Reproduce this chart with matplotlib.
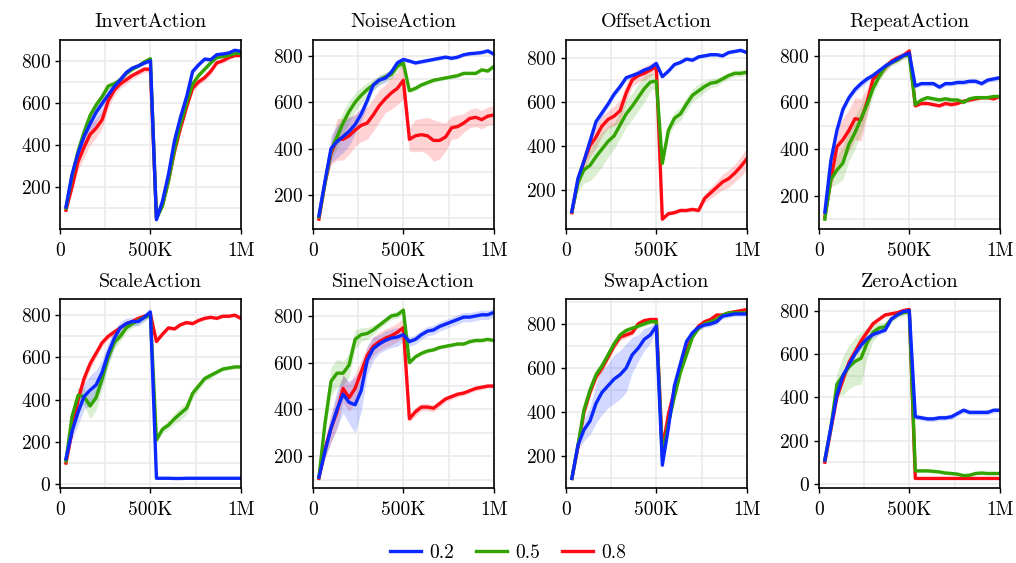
import numpy as np
import matplotlib
matplotlib.use("Agg")
from matplotlib import pyplot as plt
from matplotlib.ticker import AutoMinorLocator, FixedLocator

plt.rcParams["font.family"] = ["cmr10", "DejaVu Serif"]
plt.rcParams["axes.formatter.use_mathtext"] = True
plt.rcParams["font.size"] = 14

# evaluation steps: 30 checkpoints over 1M env steps (task switch at 500K)
steps = np.arange(1, 31) * 1e6 / 30

labels = ["0.2", "0.5", "0.8"]
colors = ["#0a28ff", "#33a300", "#ff0a14"]

tasks = ["InvertAction", "NoiseAction", "OffsetAction", "RepeatAction",
         "ScaleAction", "SineNoiseAction", "SwapAction", "ZeroAction"]

invert_02 = [105, 260, 360, 440, 500, 555, 597, 637, 677, 709, 744, 765, 776, 789, 800,
             45, 133, 261, 421, 533, 629, 749, 781, 808, 805, 829, 832, 837, 850, 845]
invert_05 = [100, 250, 370, 460, 540, 590, 630, 680, 690, 710, 740, 760, 775, 795, 810,
             50, 110, 230, 380, 500, 600, 690, 730, 760, 790, 815, 820, 825, 835, 835]
invert_08 = [90, 200, 320, 390, 450, 480, 520, 610, 660, 690, 710, 730, 745, 760, 760,
             55, 115, 230, 370, 480, 580, 670, 700, 720, 750, 790, 800, 815, 825, 825]

noise_02 = [110, 259, 400, 430, 452, 474, 504, 548, 607, 674, 696, 704, 730, 770, 785,
            778, 770, 775, 780, 785, 790, 795, 790, 795, 805, 810, 812, 815, 822, 808]
noise_05 = [105, 250, 390, 450, 510, 560, 600, 630, 655, 675, 695, 710, 720, 755, 770,
            650, 660, 675, 685, 695, 700, 705, 710, 715, 725, 725, 725, 740, 735, 755]
noise_08 = [95, 250, 380, 440, 440, 455, 480, 500, 510, 545, 585, 615, 640, 660, 695,
            440, 455, 460, 455, 435, 435, 450, 490, 495, 510, 530, 535, 525, 540, 545]

offset_02 = [100, 250, 330, 420, 510, 550, 590, 635, 670, 710, 720, 730, 745, 755, 775,
             715, 740, 770, 780, 795, 790, 805, 810, 815, 815, 810, 825, 830, 835, 825]
offset_05 = [100, 230, 290, 310, 350, 385, 420, 445, 495, 545, 580, 620, 660, 690, 695,
             320, 470, 525, 545, 590, 630, 650, 670, 685, 690, 705, 720, 730, 730, 735]
offset_08 = [95, 240, 330, 400, 440, 490, 520, 535, 560, 640, 700, 720, 730, 745, 760,
             65, 90, 95, 105, 105, 110, 105, 160, 185, 210, 235, 250, 275, 305, 340]

repeat_02 = [130, 350, 480, 570, 620, 655, 680, 700, 715, 735, 755, 770, 785, 800, 810,
             670, 680, 680, 680, 665, 680, 680, 685, 685, 690, 690, 680, 695, 700, 705]
repeat_05 = [100, 270, 310, 340, 420, 470, 530, 590, 660, 710, 750, 770, 780, 800, 800,
             590, 610, 620, 615, 610, 615, 610, 610, 600, 615, 620, 620, 620, 625, 625]
repeat_08 = [110, 270, 410, 440, 480, 530, 525, 600, 700, 720, 750, 775, 790, 800, 820,
             585, 595, 595, 590, 585, 595, 590, 595, 605, 610, 615, 620, 620, 615, 625]

scale_02 = [120, 250, 340, 415, 445, 470, 530, 620, 690, 740, 760, 770, 770, 790, 815,
            28, 28, 28, 27, 27, 28, 28, 28, 28, 28, 28, 28, 28, 28, 28]
scale_05 = [110, 320, 420, 415, 370, 410, 500, 600, 670, 700, 740, 760, 775, 790, 800,
            210, 260, 280, 310, 335, 360, 430, 465, 500, 515, 530, 545, 550, 555, 555]
scale_08 = [100, 250, 400, 500, 570, 620, 670, 700, 720, 740, 760, 770, 785, 795, 805,
            675, 710, 740, 735, 755, 765, 760, 775, 785, 790, 785, 795, 795, 800, 785]

sine_02 = [110, 220, 320, 400, 465, 430, 420, 480, 610, 660, 680, 695, 705, 710, 720,
           690, 700, 720, 735, 740, 755, 765, 775, 785, 795, 795, 800, 805, 805, 815]
sine_05 = [110, 340, 520, 555, 555, 590, 700, 720, 725, 740, 760, 780, 800, 805, 825,
           600, 625, 640, 650, 655, 665, 670, 675, 680, 680, 690, 695, 695, 700, 695]
sine_08 = [105, 230, 320, 390, 490, 450, 490, 560, 630, 670, 690, 705, 715, 730, 750,
           360, 390, 410, 410, 405, 425, 445, 455, 465, 470, 480, 490, 495, 500, 500]

swap_02 = [100, 250, 320, 360, 440, 490, 520, 550, 570, 600, 660, 690, 730, 750, 790,
           160, 330, 520, 620, 720, 760, 785, 795, 800, 810, 835, 840, 845, 845, 845]
swap_05 = [100, 250, 410, 500, 570, 610, 660, 710, 750, 770, 780, 790, 800, 810, 810,
           200, 350, 470, 580, 660, 740, 780, 800, 810, 820, 840, 850, 850, 850, 850]
swap_08 = [100, 240, 400, 490, 560, 600, 650, 700, 740, 750, 760, 800, 815, 820, 820,
           230, 390, 500, 600, 680, 750, 790, 810, 820, 840, 840, 850, 855, 860, 865]

zero_02 = [110, 260, 410, 500, 550, 600, 640, 670, 690, 700, 710, 760, 780, 795, 800,
           310, 305, 300, 300, 305, 305, 310, 325, 340, 330, 330, 330, 330, 340, 340]
zero_05 = [110, 260, 460, 500, 540, 565, 580, 650, 700, 720, 725, 760, 780, 790, 795,
           60, 60, 60, 58, 55, 50, 48, 45, 38, 40, 48, 50, 48, 48, 48]
zero_08 = [100, 250, 400, 480, 560, 610, 660, 700, 740, 760, 780, 785, 790, 800, 805,
           25, 25, 25, 25, 25, 25, 25, 25, 25, 25, 25, 25, 25, 25, 25]

# half-width of the shaded band around each mean curve
invert_02_sd = [5, 20, 50, 60, 60, 50, 45, 35, 25, 20, 15, 10, 10, 8, 5,
                3, 10, 10, 10, 10, 10, 10, 10, 10, 10, 10, 10, 10, 8, 8]
invert_05_sd = [5, 15, 25, 25, 20, 20, 15, 15, 15, 10, 10, 10, 8, 8, 5,
                3, 10, 10, 10, 10, 10, 10, 10, 10, 10, 8, 8, 8, 8, 8]
invert_08_sd = [5, 20, 40, 50, 50, 45, 40, 35, 25, 20, 20, 15, 15, 15, 10,
                3, 10, 10, 10, 10, 10, 15, 15, 15, 15, 10, 10, 10, 8, 8]

noise_02_sd = [5, 20, 60, 70, 70, 60, 40, 30, 25, 20, 20, 20, 15, 15, 10,
               8, 8, 8, 8, 8, 8, 8, 8, 8, 8, 8, 8, 8, 10, 10]
noise_05_sd = [5, 15, 40, 50, 50, 45, 40, 35, 30, 25, 20, 20, 20, 20, 15,
               10, 10, 10, 10, 10, 8, 8, 8, 8, 8, 8, 8, 8, 8, 10]
noise_08_sd = [5, 20, 50, 90, 90, 80, 70, 70, 70, 70, 70, 60, 70, 70, 80,
               50, 70, 70, 80, 90, 80, 60, 50, 50, 40, 40, 40, 40, 40, 40]

offset_02_sd = [5, 15, 20, 20, 20, 20, 15, 15, 15, 12, 10, 10, 10, 10, 8,
                8, 8, 8, 8, 8, 8, 8, 8, 8, 8, 8, 8, 8, 8, 8]
offset_05_sd = [5, 40, 60, 70, 80, 80, 70, 60, 60, 60, 60, 60, 60, 40, 30,
                20, 30, 30, 30, 30, 30, 30, 25, 20, 20, 15, 15, 15, 15, 12]
offset_08_sd = [5, 30, 40, 50, 50, 45, 40, 45, 50, 40, 30, 30, 30, 30, 30,
                5, 8, 8, 8, 8, 8, 8, 20, 25, 30, 35, 40, 40, 45, 50]

repeat_02_sd = [5, 20, 20, 20, 15, 15, 15, 15, 10, 10, 10, 10, 10, 10, 10,
                10, 10, 10, 10, 10, 10, 10, 10, 10, 10, 10, 10, 10, 12, 12]
repeat_05_sd = [5, 30, 60, 70, 70, 70, 60, 40, 30, 20, 20, 15, 15, 15, 10,
                10, 10, 10, 10, 10, 10, 10, 8, 8, 8, 8, 8, 8, 8, 8]
repeat_08_sd = [5, 40, 80, 90, 90, 90, 90, 60, 30, 20, 20, 15, 15, 15, 10,
                8, 8, 8, 8, 8, 8, 8, 8, 8, 8, 8, 8, 8, 8, 8]

scale_02_sd = [10, 40, 60, 60, 70, 70, 60, 50, 40, 30, 25, 20, 20, 20, 20,
               5, 5, 5, 5, 5, 5, 5, 5, 5, 5, 5, 5, 5, 5, 5]
scale_05_sd = [10, 30, 40, 40, 60, 60, 50, 40, 30, 25, 20, 20, 20, 15, 10,
               15, 20, 20, 25, 30, 30, 25, 20, 15, 15, 10, 10, 10, 10, 10]
scale_08_sd = [10, 25, 30, 30, 25, 20, 15, 15, 15, 10, 10, 10, 10, 10, 8,
               8, 8, 8, 8, 8, 8, 8, 8, 8, 8, 8, 8, 8, 8, 8]

sine_02_sd = [5, 30, 60, 80, 80, 90, 120, 90, 60, 50, 40, 40, 40, 40, 30,
              20, 20, 20, 20, 20, 20, 20, 20, 20, 20, 20, 20, 20, 20, 20]
sine_05_sd = [5, 40, 60, 60, 50, 50, 40, 30, 25, 20, 15, 15, 15, 15, 10,
              8, 8, 8, 8, 8, 8, 8, 8, 8, 8, 8, 8, 8, 8, 8]
sine_08_sd = [5, 40, 60, 70, 60, 60, 60, 50, 40, 40, 40, 40, 40, 40, 40,
              15, 20, 15, 15, 15, 15, 12, 12, 12, 10, 10, 10, 10, 8, 8]

swap_02_sd = [5, 20, 50, 60, 90, 100, 100, 110, 110, 110, 80, 60, 50, 40, 15,
              10, 10, 15, 15, 15, 15, 15, 12, 12, 12, 10, 10, 10, 10, 10]
swap_05_sd = [5, 15, 25, 25, 25, 20, 20, 20, 15, 15, 12, 12, 10, 10, 10,
              10, 10, 10, 10, 10, 10, 10, 10, 10, 8, 8, 8, 8, 8, 8]
swap_08_sd = [5, 15, 20, 20, 20, 20, 20, 15, 15, 15, 12, 12, 10, 10, 10,
              10, 10, 10, 10, 10, 10, 10, 10, 10, 10, 8, 8, 8, 8, 8]

zero_02_sd = [5, 15, 20, 20, 20, 15, 15, 15, 15, 12, 12, 10, 10, 10, 10,
              12, 12, 12, 12, 12, 12, 12, 12, 12, 12, 12, 12, 12, 12, 12]
zero_05_sd = [5, 30, 50, 90, 100, 110, 120, 70, 40, 25, 20, 15, 15, 15, 10,
              8, 8, 8, 8, 8, 8, 8, 8, 8, 8, 8, 8, 8, 8, 8]
zero_08_sd = [5, 15, 20, 20, 20, 15, 15, 15, 12, 10, 10, 10, 10, 10, 8,
              5, 5, 5, 5, 5, 5, 5, 5, 5, 5, 5, 5, 5, 5, 5]

means = [
    [invert_02, invert_05, invert_08],
    [noise_02, noise_05, noise_08],
    [offset_02, offset_05, offset_08],
    [repeat_02, repeat_05, repeat_08],
    [scale_02, scale_05, scale_08],
    [sine_02, sine_05, sine_08],
    [swap_02, swap_05, swap_08],
    [zero_02, zero_05, zero_08],
]
spreads = [
    [invert_02_sd, invert_05_sd, invert_08_sd],
    [noise_02_sd, noise_05_sd, noise_08_sd],
    [offset_02_sd, offset_05_sd, offset_08_sd],
    [repeat_02_sd, repeat_05_sd, repeat_08_sd],
    [scale_02_sd, scale_05_sd, scale_08_sd],
    [sine_02_sd, sine_05_sd, sine_08_sd],
    [swap_02_sd, swap_05_sd, swap_08_sd],
    [zero_02_sd, zero_05_sd, zero_08_sd],
]

f, axes = plt.subplots(2, 4, figsize=(10.16, 5.63), dpi=100)
f.subplots_adjust(left=0.059, right=0.984, top=0.929, bottom=0.133,
                  wspace=0.398, hspace=0.372)

handles = []
for ax, task, task_means, task_spreads in zip(axes.flat, tasks, means, spreads):
    lines = [None] * 3
    # draw 0.8 first so the 0.2 curve ends up on top
    for i in [2, 1, 0]:
        m = np.array(task_means[i], dtype=float)
        s = np.array(task_spreads[i], dtype=float)
        ax.fill_between(steps, m - s, m + s, color=colors[i], alpha=0.18, lw=0)
        lines[i], = ax.plot(steps, m, color=colors[i], lw=2.4, label=labels[i])
    handles = lines

    ax.set_title(task, fontsize=14.5, pad=9)
    ax.set_xlim(0, 1e6)
    ax.xaxis.set_major_locator(FixedLocator([0, 5e5, 1e6]))
    ax.set_xticklabels(["0", "500K", "1M"])
    ax.xaxis.set_minor_locator(FixedLocator([2.5e5, 7.5e5]))
    ax.yaxis.set_major_locator(FixedLocator([0, 200, 400, 600, 800]))
    ax.yaxis.set_minor_locator(AutoMinorLocator(2))
    ax.grid(True, which="both", color="#ebebeb", lw=1.2)
    ax.set_axisbelow(True)
    ax.tick_params(which="major", length=3.5, width=1.0, labelsize=14, pad=3)
    ax.tick_params(axis="x", which="major", pad=6)
    ax.tick_params(which="minor", length=0)
    for sp in ax.spines.values():
        sp.set_linewidth(1.2)

f.legend(handles, labels, loc="center", bbox_to_anchor=(0.5, 0.018), ncol=3,
         frameon=False, fontsize=14, columnspacing=1.1, handlelength=1.6,
         handletextpad=0.45)

plt.savefig("out.png", dpi=100)
